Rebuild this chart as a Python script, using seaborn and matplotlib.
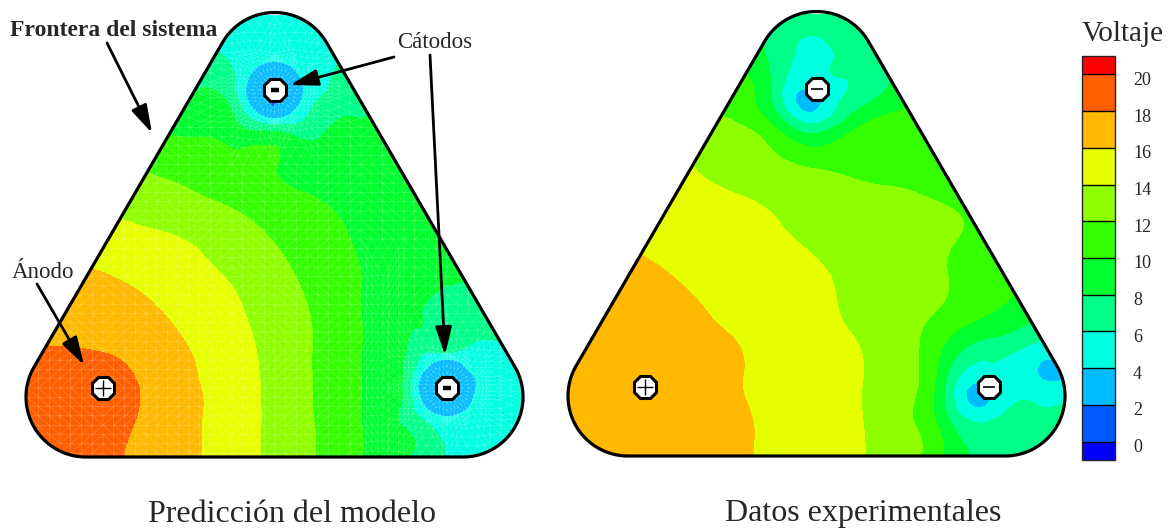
import numpy as np
import matplotlib
matplotlib.use("Agg")
import matplotlib.pyplot as plt
import matplotlib.tri as mtri
from matplotlib.colors import ListedColormap, BoundaryNorm
from matplotlib.patches import Polygon
from matplotlib.transforms import ScaledTranslation
import seaborn as sns

sns.set_theme(style="white")
plt.rcParams["font.family"] = ["Liberation Serif", "DejaVu Serif"]

# ---------------------------------------------------------------------------
# Voltage samples on a regular grid over the tank (mm, origin at the anode).
# Rows run from the top of the tank (first row) to the bottom (last row).
# ---------------------------------------------------------------------------
grid_u = np.linspace(-86.0, 430.0, 13)
grid_v = np.linspace(372.5, -74.5, 13)

model_voltage = [
    [9.5, 9.0, 8.5, 8.0, 7.0, 6.0, 5.0, 5.6, 6.4, 7.2, 7.8, 8.0, 8.2],
    [10.5, 10.0, 9.5, 8.5, 6.5, 5.5, 4.4, 5.0, 6.4, 7.4, 7.9, 8.1, 8.3],
    [11.5, 11.0, 10.2, 9.0, 7.9, 6.5, 2.8, 5.3, 7.2, 8.0, 8.3, 8.5, 8.7],
    [12.5, 12.0, 11.2, 10.2, 9.55, 8.85, 6.8, 7.55, 8.15, 8.5, 8.7, 8.9, 9.0],
    [13.5, 13.0, 12.4, 11.7, 11.15, 10.6, 10.1, 9.0, 8.6, 8.4, 8.5, 8.7, 8.9],
    [14.0, 13.8, 13.5, 13.07, 12.45, 11.77, 10.9, 10.1, 9.4, 9.0, 8.8, 8.8, 8.8],
    [15.5, 15.2, 14.9, 14.4, 13.9, 12.9, 11.9, 10.8, 9.8, 9.1, 8.6, 8.4, 8.4],
    [16.6, 16.4, 16.1, 15.5, 14.7, 13.8, 12.6, 11.3, 10.0, 9.2, 8.4, 8.0, 7.8],
    [17.6, 17.25, 16.8, 16.3, 15.5, 14.4, 13.1, 11.7, 10.0, 8.8, 7.4, 6.8, 6.6],
    [18.5, 18.15, 17.9, 16.96, 16.03, 14.77, 13.38, 11.8, 10.04, 8.2, 6.4, 5.4, 5.5],
    [19.3, 19.4, 19.7, 17.6, 16.3, 14.94, 13.47, 11.83, 10.04, 7.65, 2.8, 4.5, 5.0],
    [18.9, 19.0, 19.0, 17.5, 16.33, 14.98, 13.5, 11.87, 10.04, 7.9, 4.6, 5.0, 5.2],
    [18.8, 18.9, 18.6, 17.4, 16.3, 15.0, 13.5, 11.9, 10.0, 7.9, 5.9, 5.2, 5.2],
]

# Model: extra samples between the 10 V line and the right cathode
model_extra_u = [280.0, 280.0, 280.0, 280.0, 280.0, 280.0]
model_extra_v = [112.3, 74.5, 37.0, 0.0, -37.0, -69.0]
model_extra_voltage = [9.6, 9.4, 9.1, 8.96, 8.95, 8.95]

# Model: samples on circles around each cathode
inner_ring_radius = 29.0
inner_ring_voltage = 4.0
outer_ring_radius = 45.0
outer_ring_angles = [20, 65, 115, 160, 200, 245, 295, 340]
model_top_cathode_ring = [5.2, 4.5, 4.7, 6.3, 7.6, 8.05, 7.2, 6.4]
model_right_cathode_ring = [4.5, 6.05, 6.6, 7.7, 7.5, 6.6, 4.8, 4.5]

measured_voltage = [
    [10.5, 10.0, 9.5, 9.0, 8.5, 7.8, 7.0, 7.6, 8.2, 8.6, 9.0, 9.4, 9.8],
    [11.5, 11.0, 10.5, 10.0, 9.4, 7.36, 5.6, 7.0, 8.2, 8.6, 9.0, 9.5, 10.0],
    [12.5, 12.2, 11.9, 11.5, 11.1, 7.4, 4.3, 6.5, 8.8, 9.0, 9.5, 10.0, 10.5],
    [14.0, 13.8, 13.6, 13.3, 12.25, 10.0, 6.6, 10.0, 10.9, 11.0, 11.0, 11.0, 11.0],
    [14.8, 14.6, 14.3, 14.05, 13.28, 12.45, 11.55, 11.45, 11.4, 11.3, 11.2, 11.0, 11.0],
    [15.4, 15.2, 15.0, 14.6, 14.2, 13.77, 13.3, 12.85, 12.4, 11.9, 11.5, 11.2, 11.0],
    [16.2, 16.0, 15.6, 15.1, 14.66, 14.2, 13.73, 13.2, 12.7, 12.15, 11.6, 11.2, 10.8],
    [17.0, 16.8, 16.4, 15.73, 15.2, 14.7, 14.18, 13.52, 12.8, 12.05, 11.0, 10.2, 9.8],
    [17.2, 17.1, 16.8, 16.3, 15.65, 15.0, 14.36, 13.6, 12.67, 11.6, 10.1, 8.6, 8.0],
    [17.3, 17.2, 17.0, 16.7, 16.15, 15.4, 14.7, 14.02, 12.6, 9.5, 6.9, 5.4, 5.5],
    [17.4, 17.5, 17.6, 17.1, 16.2, 15.49, 14.78, 14.07, 12.6, 7.8, 4.2, 5.0, 5.2],
    [17.3, 17.4, 17.4, 17.0, 16.4, 15.58, 14.84, 14.1, 12.58, 8.8, 6.3, 6.8, 7.0],
    [17.2, 17.2, 17.1, 16.9, 16.3, 15.66, 14.9, 14.1, 12.7, 9.55, 7.7, 7.0, 7.0],
]

# Additional measurement points (mm) and their voltages
measured_extra_u = [158.0, 330.0, 402.0, 280.0, 280.0, 280.0, 280.0]
measured_extra_v = [287.0, -10.0, 15.0, 36.0, -1.0, -38.0, -70.0]
measured_extra_voltage = [3.3, 3.3, 3.6, 11.6, 11.3, 11.3, 11.7]

# Electrodes (mm): anode, upper cathode, right cathode
electrode_u = [0.0, 171.5, 344.0]
electrode_v = [0.0, 298.0, 0.0]
electrode_sign = ["+", "-", "-"]

# Tank boundary: rounded triangle (corner centres in mm, corner radius)
corner_u = [-17.0, 360.0, 171.5]
corner_v = [-9.0, -9.0, 315.5]
corner_radius = 60.0

levels = np.arange(0, 22, 2)
band_colors = ["#0000FF", "#005AFF", "#00BBFF", "#00FFE1", "#00FF88", "#00FF2E",
               "#33FF00", "#8EFF00", "#E6FF00", "#FFB900", "#FF5E00", "#FF0000"]

cmap = ListedColormap(band_colors[1:-1])
cmap.set_under(band_colors[0])
cmap.set_over(band_colors[-1])
norm = BoundaryNorm(levels, cmap.N)


def tank_outline(n=60):
    cu, cv = np.array(corner_u), np.array(corner_v)
    pts = []
    for i in range(3):
        p, c, q = (i - 1) % 3, i, (i + 1) % 3
        d_in = np.array([cu[c] - cu[p], cv[c] - cv[p]])
        d_out = np.array([cu[q] - cu[c], cv[q] - cv[c]])
        n_in = np.array([d_in[1], -d_in[0]]) / np.hypot(*d_in)
        n_out = np.array([d_out[1], -d_out[0]]) / np.hypot(*d_out)
        a1 = np.arctan2(n_in[1], n_in[0])
        a2 = np.arctan2(n_out[1], n_out[0])
        if a2 < a1:
            a2 += 2 * np.pi
        t = np.linspace(a1, a2, n)
        pts.append(np.column_stack([cu[c] + corner_radius * np.cos(t),
                                    cv[c] + corner_radius * np.sin(t)]))
    return np.vstack(pts)


outline = tank_outline()
gu, gv = np.meshgrid(grid_u, grid_v)

# Model samples: grid + extra points + circles round the cathodes
inner_t = np.linspace(0, 2 * np.pi, 12, endpoint=False)
outer_t = np.radians(outer_ring_angles)
model_u = [gu.ravel(), np.asarray(model_extra_u)]
model_v = [gv.ravel(), np.asarray(model_extra_v)]
model_z = [np.asarray(model_voltage).ravel(), np.asarray(model_extra_voltage)]
for k, ring_vals in ((1, model_top_cathode_ring), (2, model_right_cathode_ring)):
    model_u.append(electrode_u[k] + inner_ring_radius * np.cos(inner_t))
    model_v.append(electrode_v[k] + inner_ring_radius * np.sin(inner_t))
    model_z.append(np.full(inner_t.size, inner_ring_voltage))
    model_u.append(electrode_u[k] + outer_ring_radius * np.cos(outer_t))
    model_v.append(electrode_v[k] + outer_ring_radius * np.sin(outer_t))
    model_z.append(np.asarray(ring_vals))
model_u = np.concatenate(model_u)
model_v = np.concatenate(model_v)
model_z = np.concatenate(model_z)

meas_u = np.concatenate([gu.ravel(), measured_extra_u])
meas_v = np.concatenate([gv.ravel(), measured_extra_v])
meas_z = np.concatenate([np.asarray(measured_voltage).ravel(), measured_extra_voltage])

W, H = 1174, 531
fig = plt.figure(figsize=(W / 100, H / 100), dpi=100)
fig.patch.set_facecolor("white")


def draw_panel(rect, ylim, u, v, z, minus_style, mesh=False):
    ax = fig.add_axes(rect)
    ax.set_xlim(-103, 437)
    ax.set_ylim(*ylim)
    ax.set_aspect("equal")
    ax.axis("off")
    tri = mtri.Triangulation(u, v)
    refiner = mtri.UniformTriRefiner(tri)
    tri_f, z_f = refiner.refine_field(z, subdiv=3)
    clip = Polygon(outline, closed=True, transform=ax.transData)
    cs = ax.tricontourf(tri_f, z_f, levels=levels, cmap=cmap, norm=norm, extend="both")
    cs.set_clip_path(clip)
    if mesh:
        tri_m = refiner.refine_triangulation(subdiv=2)
        for ln in ax.triplot(tri_m, color="white", lw=0.35, alpha=0.3):
            ln.set_clip_path(clip)
    ax.add_patch(Polygon(outline, closed=True, fill=False, ec="black", lw=2.3,
                         joinstyle="round", zorder=5))
    ax.plot(electrode_u, electrode_v, ls="none", marker="8", ms=17.5, mfc="white",
            mec="black", mew=2.2, zorder=6)
    for eu, ev, s in zip(electrode_u, electrode_v, electrode_sign):
        if s == "+":
            ax.plot(eu, ev, marker="+", ms=11, mew=1.0, color="black", zorder=7)
        else:
            ax.plot(eu, ev, marker="_", color="black", zorder=7, **minus_style)
    return ax, cs


ax_model, cs = draw_panel([0, 51 / H, 540 / W, 480 / H], (-92, 388),
                          model_u, model_v, model_z, dict(ms=6, mew=3.2), mesh=True)
ax_meas, _ = draw_panel([542 / W, 51 / H, 540 / W, 480 / H], (-93, 387),
                        meas_u, meas_v, meas_z, dict(ms=8, mew=1.2))

# Colour bar
cax = fig.add_axes([1082 / W, (H - 460) / H, 33 / W, 404 / H])
cb = fig.colorbar(cs, cax=cax, extend="both", extendrect=True, extendfrac=0.05,
                  drawedges=True, ticks=levels)
cb.outline.set_linewidth(1.0)
cb.dividers.set_linewidth(1.0)
cb.dividers.set_color("black")
cax.tick_params(length=0, pad=13, labelsize=13)
shift = ScaledTranslation(0, -0.04, fig.dpi_scale_trans)
for lab in cax.get_yticklabels():
    lab.set_transform(lab.get_transform() + shift)
fig.text(1123 / W, 1 - 34 / H, "Voltaje", ha="center", va="center", fontsize=21)

# Annotation layer in pixel coordinates
ov = fig.add_axes([0, 0, 1, 1], facecolor="none")
ov.set_xlim(0, W)
ov.set_ylim(H, 0)
ov.axis("off")
arrow = dict(arrowstyle="-|>,head_length=0.85,head_width=0.25", lw=2.0,
             color="black", shrinkA=0, shrinkB=0, mutation_scale=20)
ov.text(10, 31, "Frontera del sistema", ha="left", va="center", fontsize=17,
        fontweight="bold")
ov.annotate("", xy=(152, 133), xytext=(107, 43), arrowprops=arrow)
ov.text(435, 43, "Cátodos", ha="center", va="center", fontsize=16.5)
ov.annotate("", xy=(290, 85), xytext=(394, 57), arrowprops=arrow)
ov.annotate("", xy=(445, 355), xytext=(430, 55), arrowprops=arrow)
ov.text(43, 273, "Ánodo", ha="center", va="center", fontsize=16.5)
ov.annotate("", xy=(84, 365), xytext=(37, 284), arrowprops=arrow)

ov.text(292, 514, "Predicción del modelo", ha="center", va="center", fontsize=23)
ov.text(863, 514, "Datos experimentales", ha="center", va="center", fontsize=23)

fig.savefig("out.png", dpi=100, facecolor="white")
